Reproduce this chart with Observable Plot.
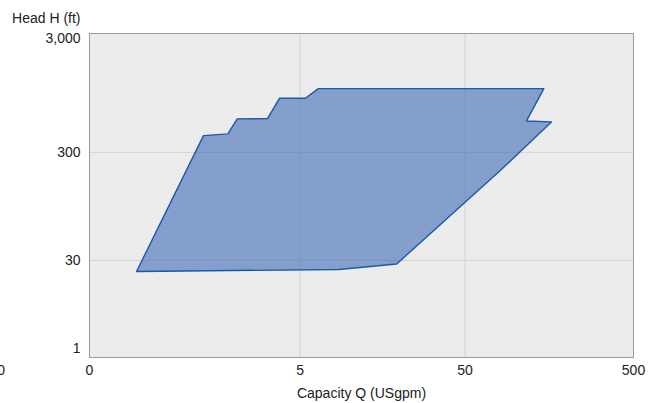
<!DOCTYPE html>
<html>
<head>
<meta charset="utf-8">
<script src="https://cdn.jsdelivr.net/npm/d3@7"></script>
<script src="https://cdn.jsdelivr.net/npm/@observablehq/plot@0.6"></script>
<style>
  html, body { margin: 0; padding: 0; background: #ffffff; }
  #chart { width: 660px; height: 403px; }
</style>
</head>
<body>
<div id="chart"></div>
<script>
// Tick values and labels
const xTicks = [-0.7, 0, 5, 50, 500];
const xTickLabels = ["0", "0", "5", "50", "500"];
const yTicks = [1, 30, 300, 3000];
const yTickLabels = ["1", "30", "300", "3,000"];

// Operating envelope (polygon vertices, clockwise from bottom-left)
const capacity = [0.27, 1.12, 1.68, 1.95, 3.1, 3.7, 5.4, 6.5, 147, 116, 163, 81, 19.5, 8.7];
const head     = [23,   422,  437,  592,  595, 897, 897, 1090, 1090, 568, 557, 207, 27.6, 24.2];

const xTitle = "Capacity Q (USgpm)";
const yTitle = "Head H (ft)";

const envelope = capacity.map((q, i) => ({q, h: head[i]}));
const xLabelMap = new Map(xTicks.map((v, i) => [v, xTickLabels[i]]));
const yLabelMap = new Map(yTicks.map((v, i) => [v, yTickLabels[i]]));
const xDomain = [0, 500];
const yDomain = [0, 3300];
const gridX = xTicks.filter(v => v > xDomain[0] && v < xDomain[1]);
const gridY = yTicks.filter(v => v > 1 && v < 3000);

const chart = Plot.plot({
  width: 660,
  height: 403,
  marginLeft: 89,
  marginRight: 27,
  marginTop: 33,
  marginBottom: 46,
  style: {
    fontFamily: "'Liberation Sans', Arial, Helvetica, sans-serif",
    fontSize: "14px",
    color: "#222",
    background: "#ffffff"
  },
  x: {type: "symlog", constant: 0.3, domain: xDomain},
  y: {type: "symlog", constant: 5, domain: yDomain},
  marks: [
    Plot.frame({fill: "#ececec", stroke: "none"}),
    Plot.ruleX(gridX, {stroke: "#d4d4d4", strokeWidth: 1}),
    Plot.ruleY(gridY, {stroke: "#d4d4d4", strokeWidth: 1}),
    Plot.line(envelope, {
      x: "q", y: "h",
      curve: "linear-closed",
      fill: "#3060b0",
      fillOpacity: 0.55,
      stroke: "#1a5aa8",
      strokeWidth: 1.4
    }),
    Plot.frame({stroke: "#9a9a9a", strokeWidth: 1}),
    Plot.axisX(xTicks, {
      tickSize: 0,
      tickPadding: 8,
      tickFormat: d => xLabelMap.get(d),
      label: null
    }),
    Plot.axisY(yTicks, {
      tickSize: 0,
      tickPadding: 9,
      tickFormat: d => yLabelMap.get(d),
      label: null
    }),
    Plot.text([yTitle], {
      frameAnchor: "top-left",
      text: d => d,
      dx: -9,
      dy: -15,
      textAnchor: "end",
      lineAnchor: "middle",
      fill: "#222"
    }),
    Plot.text([xTitle], {
      frameAnchor: "bottom",
      text: d => d,
      dy: 36,
      lineAnchor: "middle",
      fill: "#222"
    })
  ]
});
document.getElementById("chart").appendChild(chart);
</script>
</body>
</html>
